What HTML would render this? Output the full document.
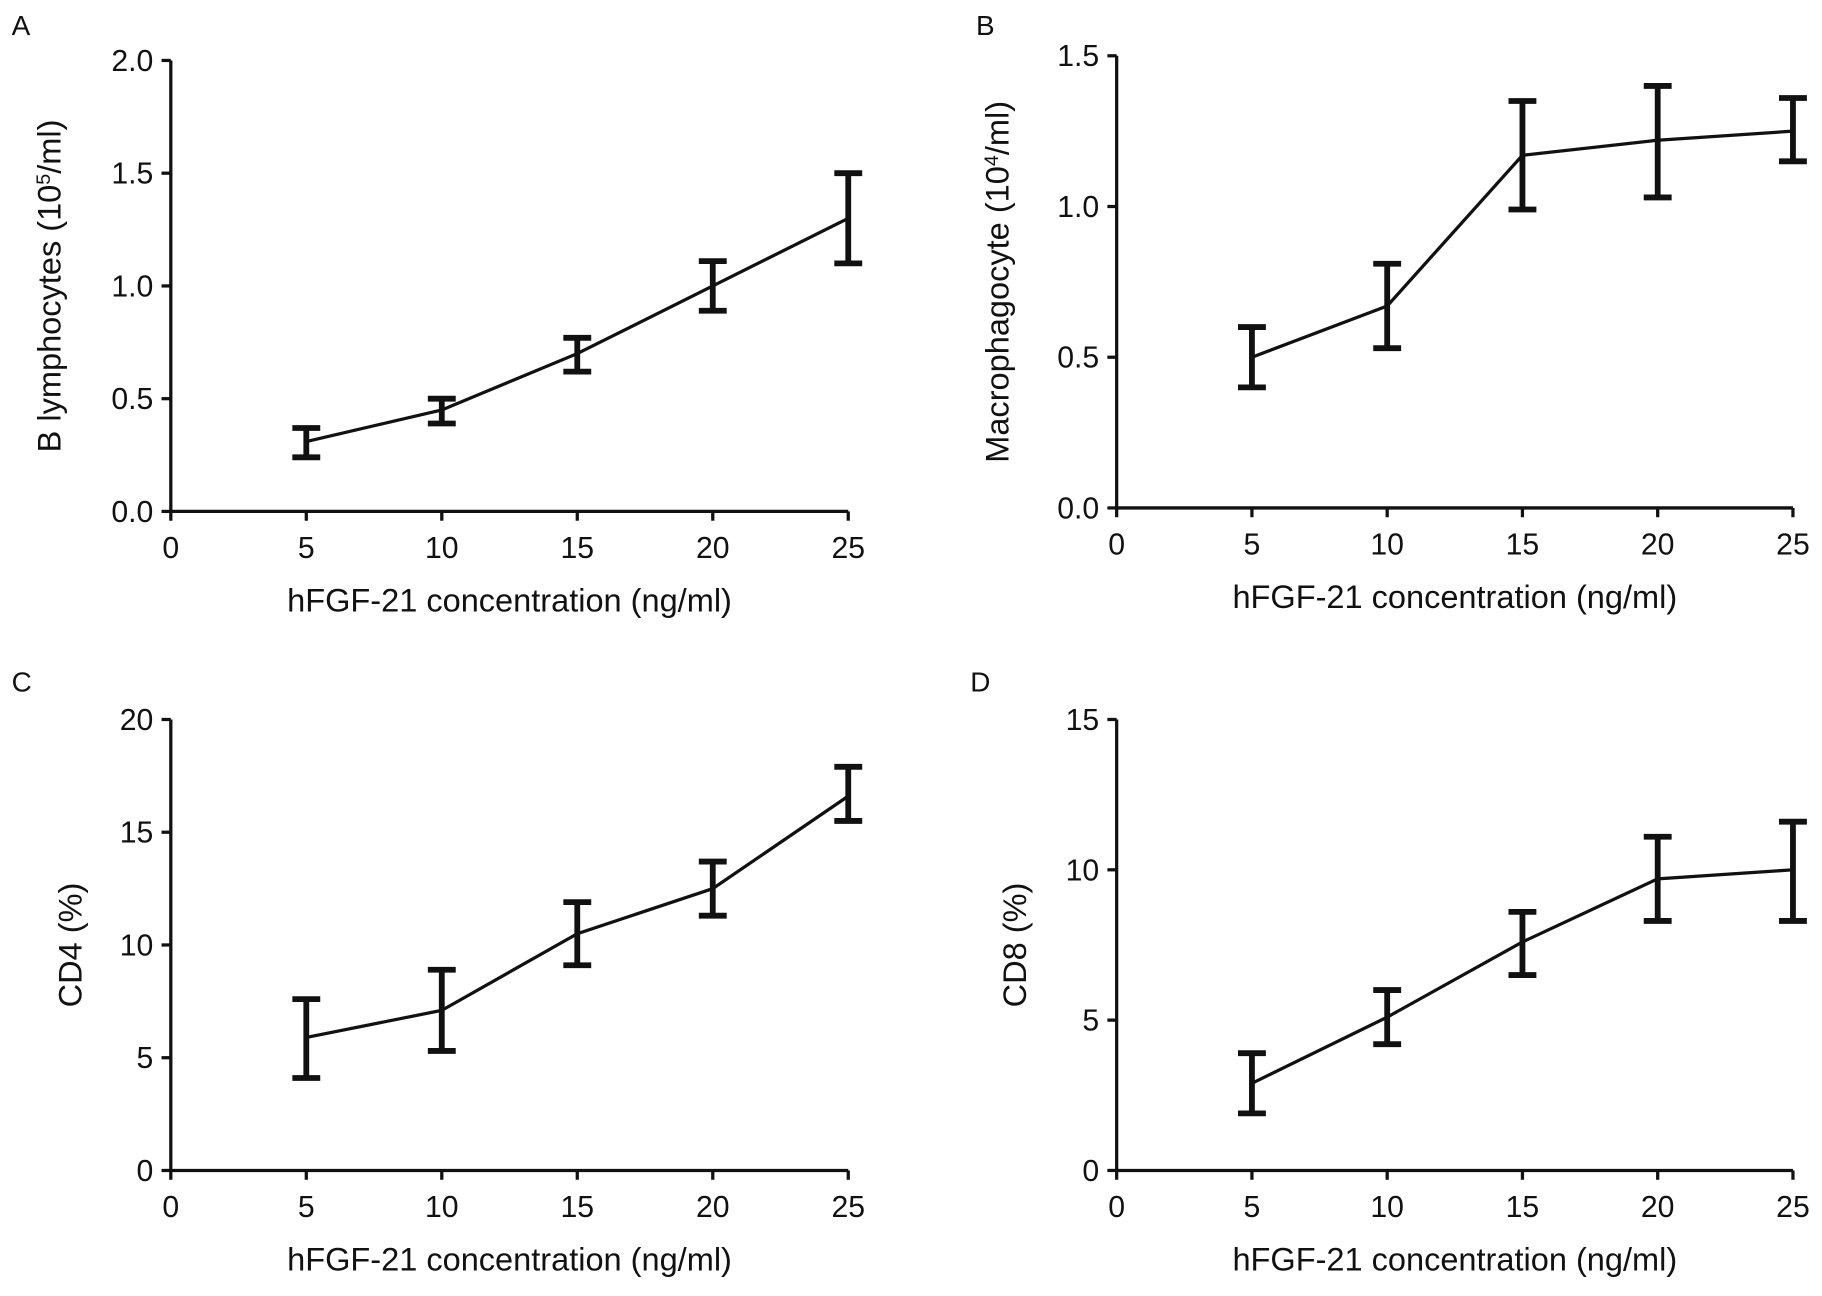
<!DOCTYPE html>
<html><head><meta charset="utf-8"><style>
html,body{margin:0;padding:0;background:#fff}
svg{display:block}
text{font-family:"Liberation Sans",sans-serif;fill:#111}
</style></head><body>
<svg id="fig" width="1822" height="1296" viewBox="0 0 1568 1115" preserveAspectRatio="none"></svg>
<script>
const xCats = [5, 10, 15, 20, 25];
const xTicks = [0, 5, 10, 15, 20, 25];
const aMean = [0.31, 0.45, 0.70, 1.00, 1.30];
const aLow = [0.24, 0.39, 0.62, 0.89, 1.10];
const aHigh = [0.37, 0.50, 0.77, 1.11, 1.50];
const aTicks = ["0.0", "0.5", "1.0", "1.5", "2.0"];
const bMean = [0.50, 0.67, 1.17, 1.22, 1.25];
const bLow = [0.40, 0.53, 0.99, 1.03, 1.15];
const bHigh = [0.60, 0.81, 1.35, 1.40, 1.36];
const bTicks = ["0.0", "0.5", "1.0", "1.5"];
const cMean = [5.9, 7.1, 10.5, 12.5, 16.6];
const cLow = [4.1, 5.3, 9.1, 11.3, 15.5];
const cHigh = [7.6, 8.9, 11.9, 13.7, 17.9];
const cTicks = ["0", "5", "10", "15", "20"];
const dMean = [2.9, 5.1, 7.6, 9.7, 10.0];
const dLow = [1.9, 4.2, 6.5, 8.3, 8.3];
const dHigh = [3.9, 6.0, 8.6, 11.1, 11.6];
const dTicks = ["0", "5", "10", "15"];

const NS = "http://www.w3.org/2000/svg";
const svg = document.getElementById("fig");
function mk(tag, attrs, parent) {
  const e = document.createElementNS(NS, tag);
  for (const k in attrs) e.setAttribute(k, attrs[k]);
  (parent || svg).appendChild(e);
  return e;
}
function panel(cfg) {
  const g = mk("g", {});
  
  
  const x0 = cfg.x0, x1 = cfg.x1, yb = cfg.yb, yt = cfg.yt;
  const ymax = parseFloat(cfg.ticks[cfg.ticks.length - 1]);
  const sx = v => x0 + (v - 0) / 25 * (x1 - x0);
  const sy = v => yb - v / ymax * (yb - yt);
  const lab = mk("text", {x: cfg.lx, y: cfg.ly, "font-size": 24}, g);
  lab.textContent = cfg.id;
  
  
  const axes = mk("path", {d: `M${x0},${yt} L${x0},${yb} L${x1},${yb}`, fill: "none", stroke: "#111", "stroke-width": 2.8}, g);
  
  
  cfg.ticks.forEach(t => {
    const y = sy(parseFloat(t));
    mk("line", {x1: x0 - 8, x2: x0, y1: y, y2: y, stroke: "#111", "stroke-width": 2.8}, g);
    const tx = mk("text", {x: x0 - 15, y: y + 9, "font-size": 26, "text-anchor": "end"}, g);
    tx.textContent = t;
    
    
  });
  xTicks.forEach(t => {
    const x = sx(t);
    mk("line", {x1: x, x2: x, y1: yb, y2: yb + 8, stroke: "#111", "stroke-width": 2.8}, g);
    const tx = mk("text", {x: x, y: yb + 40, "font-size": 26, "text-anchor": "middle"}, g);
    tx.textContent = t;
    
    
  });
  const xt = mk("text", {x: (x0 + x1) / 2, y: yb + 86, "font-size": 28, "text-anchor": "middle"}, g);
  xt.textContent = "hFGF-21 concentration (ng/ml)";
  
  
  const yt2 = mk("text", {x: 0, y: 0, "font-size": 28, "text-anchor": "middle", transform: `translate(${cfg.tx},${(yt + yb) / 2}) rotate(-90)`}, g);
  yt2.innerHTML = cfg.title;
  
  
  const pts = xCats.map((c, i) => `${sx(c)},${sy(cfg.mean[i])}`).join(" ");
  const line = mk("polyline", {points: pts, fill: "none", stroke: "#111", "stroke-width": 2.8}, g);
  
  
  xCats.forEach((c, i) => {
    const x = sx(c), lo = sy(cfg.low[i]), hi = sy(cfg.high[i]);
    const eb = mk("path", {d: `M${x},${lo} L${x},${hi} M${x - 12},${lo} L${x + 12},${lo} M${x - 12},${hi} L${x + 12},${hi}`, stroke: "#111", "stroke-width": 5, fill: "none"}, g);
    
    
  });
}
panel({id: "A", x0: 147, x1: 730, yb: 440, yt: 52, lx: 10, ly: 30, tx: 52, ticks: aTicks, mean: aMean, low: aLow, high: aHigh,
  title: 'B lymphocytes (10<tspan dy="-9" font-size="17">5</tspan><tspan dy="9">/ml)</tspan>'});
panel({id: "B", x0: 961, x1: 1543, yb: 437, yt: 48, lx: 840, ly: 30, tx: 868, ticks: bTicks, mean: bMean, low: bLow, high: bHigh,
  title: 'Macrophagocyte (10<tspan dy="-9" font-size="17">4</tspan><tspan dy="9">/ml)</tspan>'});
panel({id: "C", x0: 147, x1: 730, yb: 1007, yt: 619, lx: 10, ly: 595, tx: 70, ticks: cTicks, mean: cMean, low: cLow, high: cHigh,
  title: 'CD4 (%)'});
panel({id: "D", x0: 961, x1: 1543, yb: 1007, yt: 619, lx: 835, ly: 595, tx: 883, ticks: dTicks, mean: dMean, low: dLow, high: dHigh,
  title: 'CD8 (%)'});
</script>
</body></html>
